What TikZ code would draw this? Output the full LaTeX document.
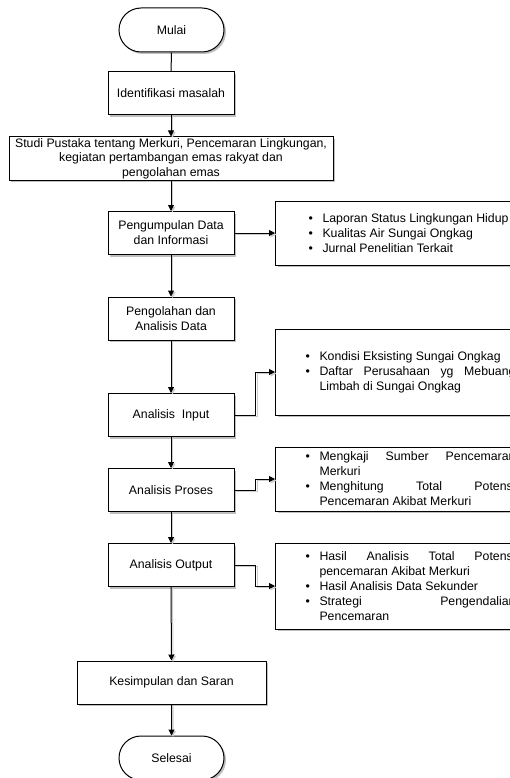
\documentclass[tikz,border=0pt]{standalone}
\usepackage{fontspec}
\setmainfont{Liberation Sans}
\usetikzlibrary{shapes.misc,shadows,arrows.meta}
\newcommand{\butir}[1]{\noindent\parfillskip=0pt plus 1fil%
    \hangindent=14pt\hangafter=1\makebox[14pt][l]{\textbullet}#1\par}

\begin{document}
\begin{tikzpicture}[x=1pt,y=-1pt,line width=1pt,
    font=\fontsize{12.3}{15}\selectfont,
    bayang/.style={drop shadow={shadow xshift=2pt,shadow yshift=-2pt,fill=black,opacity=0.25}},
    kotak/.style={draw,fill=white,bayang,minimum width=126pt,minimum height=43pt,inner sep=0pt,align=center},
    ujung/.style={draw,fill=white,bayang,rounded rectangle,minimum width=105pt,minimum height=44pt,inner sep=0pt},
    catatan/.style={draw,fill=white,bayang,anchor=west,text width=210pt,inner xsep=30pt,inner ysep=0pt,align=justify},
    panah/.style={-{Triangle[length=6pt,width=6pt]},preaction={draw=black!20,transform canvas={shift={(1.5pt,-1.5pt)}}}}]
    \useasboundingbox (0,0) rectangle (510,778);
    \clip (0,0) rectangle (510,778);

    % main column
    \node[ujung] (mulai) at (171.5,30) {Mulai};
    \node[kotak] (identifikasi) at (171,93.5) {Identifikasi masalah};
    \node[kotak,minimum width=324pt,font=\fontsize{12.3}{14.5}\selectfont] (studi) at (171,158.5)
        {Studi Pustaka tentang Merkuri, Pencemaran Lingkungan,\\ kegiatan pertambangan emas rakyat dan\\ pengolahan emas};
    \node[kotak] (kumpul) at (171,233) {Pengumpulan Data\\ dan Informasi};
    \node[kotak] (olah) at (171,318.5) {Pengolahan dan\\ Analisis Data};
    \node[kotak] (input) at (171,415) {Analisis~ Input};
    \node[kotak] (proses) at (171,490) {Analisis Proses};
    \node[kotak] (output) at (171,565) {Analisis Output};
    \node[kotak,minimum width=189pt] (simpul) at (171.5,682.5) {Kesimpulan dan Saran};
    \node[ujung] (selesai) at (171.5,758) {Selesai};

    % side notes
    \node[catatan,minimum height=64pt,inner xsep=33pt] (info) at (275,233)
        {\butir{Laporan Status Lingkungan Hidup}
         \butir{Kualitas Air Sungai Ongkag}
         \butir{Jurnal Penelitian Terkait}};
    \node[catatan,minimum height=86pt] (kondisi) at (275,372)
        {\butir{Kondisi Eksisting Sungai Ongkag}
         \butir{Daftar Perusahaan yg Mebuang\linebreak Limbah di Sungai Ongkag}};
    \node[catatan,minimum height=64pt] (kaji) at (275,479)
        {\butir{Mengkaji Sumber Pencemaran\linebreak Merkuri}
         \butir{Menghitung Total Potensi\linebreak Pencemaran Akibat Merkuri}};
    \node[catatan,minimum height=86pt] (hasil) at (275,586)
        {\butir{Hasil Analisis Total Potensi\linebreak pencemaran Akibat Merkuri}
         \butir{Hasil Analisis Data Sekunder}
         \butir{Strategi Pengendalian\linebreak Pencemaran}};

    % connectors
    \draw (mulai) -- (identifikasi);
    \draw[panah] (identifikasi) -- (studi);
    \draw[panah] (studi) -- (kumpul);
    \draw[panah] (kumpul) -- (olah);
    \draw[panah] (olah) -- (input);
    \draw[panah] (input) -- (proses);
    \draw[panah] (proses) -- (output);
    \draw[panah] (output) -- (simpul);
    \draw[panah] (simpul) -- (selesai);
    \draw[panah] (kumpul) -- (info);
    \draw[panah] (input.east) -- ++(21,0) |- (kondisi.west);
    \draw[panah] (proses.east) -- ++(21,0) |- (kaji.west);
    \draw[panah] (output.east) -- ++(21,0) |- (hasil.west);
\end{tikzpicture}
\end{document}
